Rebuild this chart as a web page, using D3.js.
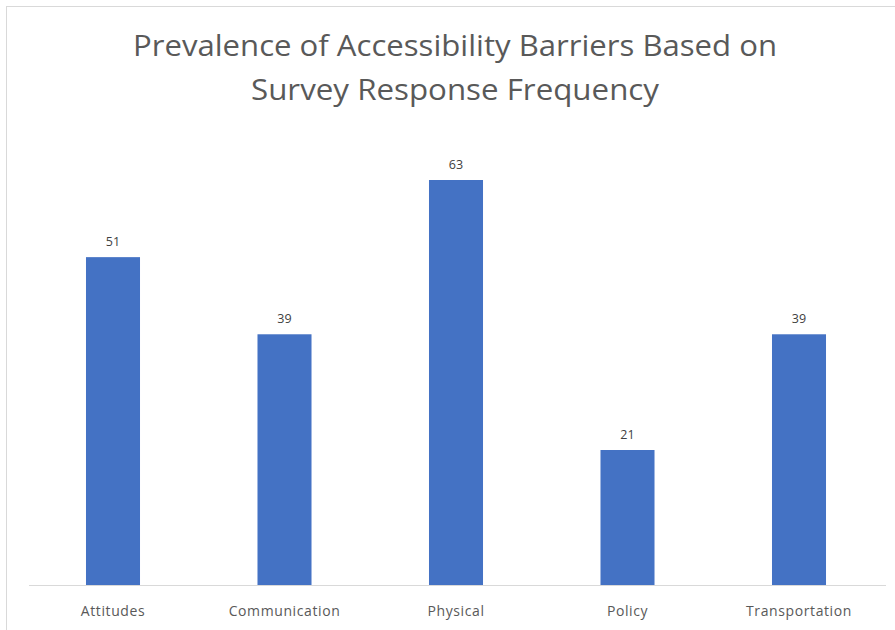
<!DOCTYPE html>
<html>
<head>
<meta charset="utf-8">
<script src="https://cdn.jsdelivr.net/npm/d3@7/dist/d3.min.js"></script>
<style>
  html, body { margin: 0; padding: 0; background: #fff; }
  svg { display: block; }
</style>
</head>
<body>
<div id="chart"></div>
<script>
// Survey response counts per barrier type
const categories = ["Attitudes", "Communication", "Physical", "Policy", "Transportation"];
const responses = [51, 39, 63, 21, 39];
const titleLines = ["Prevalence of Accessibility Barriers Based on", "Survey Response Frequency"];

const width = 895, height = 630;
const baseY = 585;

const svg = d3.select("#chart").append("svg")
  .attr("width", width)
  .attr("height", height);

// chart area frame
svg.append("rect")
  .attr("x", 6.5).attr("y", 6.5)
  .attr("width", 900).attr("height", 640)
  .attr("fill", "#fff")
  .attr("stroke", "#d9d9d9")
  .attr("stroke-width", 1);

const x = d3.scaleBand()
  .domain(categories)
  .range([27.25, 884.75])
  .paddingInner(0.685)
  .paddingOuter(0.3425);

const y = d3.scaleLinear()
  .domain([0, 63])
  .range([baseY, 180]);

// title
const titleWidths = [644, 408];
svg.append("g")
  .selectAll("text")
  .data(titleLines)
  .join("text")
  .attr("x", 455)
  .attr("y", (d, i) => 56 + i * 44)
  .attr("text-anchor", "middle")
  .attr("font-family", "'Open Sans', 'Noto Sans', sans-serif")
  .attr("font-size", 30)
  .attr("textLength", (d, i) => titleWidths[i])
  .attr("lengthAdjust", "spacingAndGlyphs")
  .attr("fill", "#595959")
  .text(d => d);

// bars
svg.append("g")
  .selectAll("rect")
  .data(responses)
  .join("rect")
  .attr("x", (d, i) => x(categories[i]))
  .attr("y", d => y(d))
  .attr("width", x.bandwidth())
  .attr("height", d => baseY - y(d))
  .attr("fill", "#4472C4");

// value labels
svg.append("g")
  .selectAll("text")
  .data(responses)
  .join("text")
  .attr("x", (d, i) => x(categories[i]) + x.bandwidth() / 2)
  .attr("y", d => y(d) - 11)
  .attr("text-anchor", "middle")
  .attr("font-family", "'Open Sans', 'Noto Sans', sans-serif")
  .attr("font-size", 12.5)
  .attr("fill", "#404040")
  .text(d => d);

// category axis
const xAxis = d3.axisBottom(x).tickSize(0).tickPadding(21);
const axisG = svg.append("g")
  .attr("transform", `translate(0,${baseY})`)
  .call(xAxis);
axisG.select(".domain")
  .attr("d", `M${29},0.5H${886}`)
  .attr("stroke", "#d9d9d9");
axisG.selectAll("text")
  .attr("font-family", "'Open Sans', 'Noto Sans', sans-serif")
  .attr("font-size", 14)
  .attr("letter-spacing", 0.6)
  .attr("fill", "#595959");
</script>
</body>
</html>
